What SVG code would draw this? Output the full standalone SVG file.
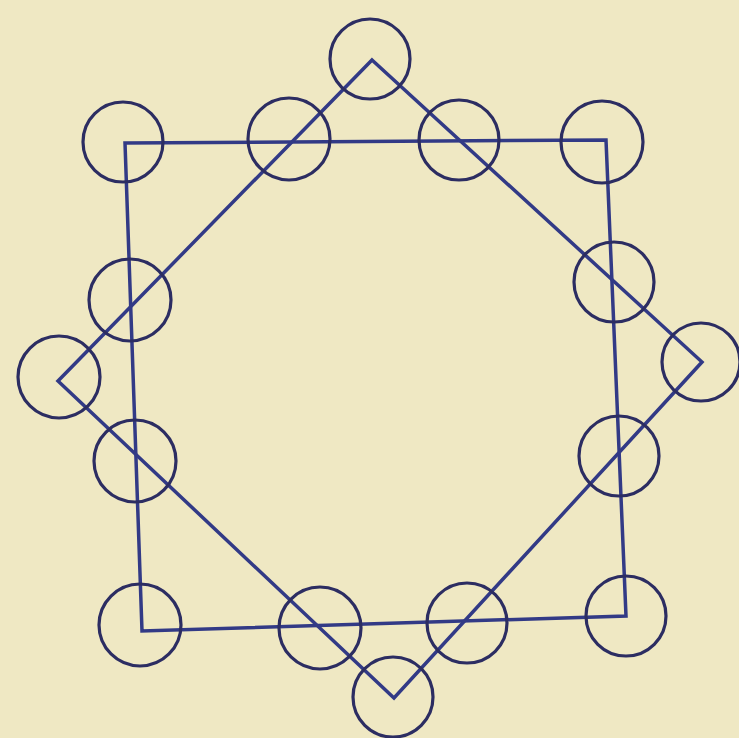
<svg xmlns="http://www.w3.org/2000/svg" width="739" height="738" viewBox="0 0 739 738">
<style>
.ln{fill:none;stroke:#323a86;stroke-width:3.5;stroke-linejoin:miter}
.c{fill:none;stroke:#2c2d62;stroke-width:3.2}
</style>
<rect x="0" y="0" width="739" height="738" fill="#efe8c3"/>
<g id="connectors">
<polygon class="ln" points="125,143 606,140 626,616 142,631"/>
<polygon class="ln" points="372,60 702,362 394,698 58,381"/>
</g>
<g id="n1"><circle class="c" cx="370" cy="59" r="40"/></g>
<g id="n2"><circle class="c" cx="289" cy="139" r="41"/></g>
<g id="n3"><circle class="c" cx="459" cy="140" r="40"/></g>
<g id="n4"><circle class="c" cx="123" cy="142" r="40"/></g>
<g id="n5"><circle class="c" cx="602" cy="142" r="41"/></g>
<g id="n6"><circle class="c" cx="130" cy="300" r="41"/></g>
<g id="n7"><circle class="c" cx="614" cy="282" r="40"/></g>
<g id="n8"><circle class="c" cx="59" cy="377" r="41"/></g>
<g id="n9"><circle class="c" cx="701" cy="362" r="39"/></g>
<g id="n10"><circle class="c" cx="135" cy="461" r="41"/></g>
<g id="n11"><circle class="c" cx="619" cy="456" r="40"/></g>
<g id="n12"><circle class="c" cx="140" cy="625" r="41"/></g>
<g id="n13"><circle class="c" cx="626" cy="616" r="40"/></g>
<g id="n14"><circle class="c" cx="320" cy="628" r="41"/></g>
<g id="n15"><circle class="c" cx="467" cy="623" r="40"/></g>
<g id="n16"><circle class="c" cx="393" cy="697" r="40"/></g>
</svg>
